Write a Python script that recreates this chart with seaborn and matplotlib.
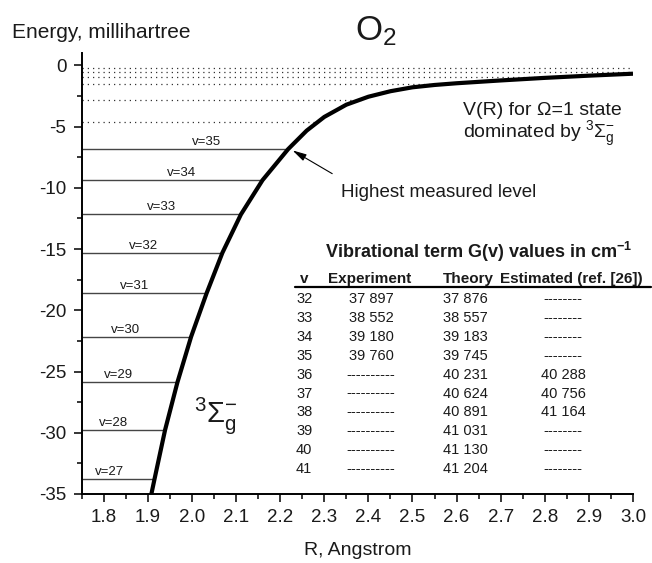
import numpy as np
import matplotlib
matplotlib.use("Agg")
import matplotlib.pyplot as plt
from matplotlib.ticker import MultipleLocator, FormatStrFormatter
from matplotlib.lines import Line2D
import seaborn as sns

# Potential energy curve V(R): R in Angstrom, energy in millihartree
curve_r = [1.908, 1.915, 1.939, 1.967, 1.998, 2.033, 2.069, 2.111, 2.160, 2.218,
           2.260, 2.300, 2.350, 2.400, 2.450, 2.500, 2.550, 2.600, 2.700, 2.800,
           2.900, 3.000]
curve_e = [-35.0, -33.80, -29.78, -25.89, -22.17, -18.63, -15.31, -12.18, -9.38, -6.85,
           -5.34, -4.22, -3.22, -2.57, -2.12, -1.80, -1.61, -1.47, -1.24, -1.03,
           -0.85, -0.69]

# Vibrational levels below the highest measured one (solid lines)
level_v = [27, 28, 29, 30, 31, 32, 33, 34, 35]
level_e = [-33.80, -29.78, -25.89, -22.17, -18.63, -15.31, -12.18, -9.38, -6.85]
level_label_r = [1.814, 1.823, 1.834, 1.850, 1.870, 1.891, 1.932, 1.977, 2.032]

# Calculated levels above the highest measured one (dotted lines)
upper_v = [36, 37, 38, 39, 40, 41]
upper_e = [-4.63, -2.80, -1.57, -0.95, -0.55, -0.22]

# Table of vibrational term values G(v), cm^-1
table_v = ["32", "33", "34", "35", "36", "37", "38", "39", "40", "41"]
table_exp = ["37 897", "38 552", "39 180", "39 760", "----------", "----------",
             "----------", "----------", "----------", "----------"]
table_theory = ["37 876", "38 557", "39 183", "39 745", "40 231", "40 624",
                "40 891", "41 031", "41 130", "41 204"]
table_est = ["--------", "--------", "--------", "--------", "40 288", "40 756",
             "41 164", "--------", "--------", "--------"]

sns.set_theme(style="ticks")
plt.rcParams["font.family"] = ["Liberation Sans", "DejaVu Sans"]
plt.rcParams["mathtext.fontset"] = "custom"
plt.rcParams["mathtext.rm"] = "Liberation Sans"
plt.rcParams["mathtext.it"] = "Liberation Sans"
plt.rcParams["mathtext.sf"] = "Liberation Sans"
plt.rcParams["mathtext.bf"] = "Liberation Sans:bold"
plt.rcParams["axes.unicode_minus"] = False

W, H = 652, 563
fig = plt.figure(figsize=(W / 100, H / 100), dpi=100)
fig.patch.set_facecolor("white")


def px(x, y):
    return x / W, 1 - y / H


ax = fig.add_axes([81.7 / W, 1 - 494 / H, (633 - 81.7) / W, (494 - 53) / H])
ax.set_facecolor("white")
ax.set_xlim(1.75, 3.0)
ax.set_ylim(-35, 1)

text_color = "#1a1a1a"

# solid measured levels, from the inner wall of the box to the curve
ends = np.interp(level_e, curve_e, curve_r)
ax.hlines(level_e, 1.75, ends, colors="#454545", lw=1.0, zorder=2)
for v, e, xr in zip(level_v, level_e, level_label_r):
    ax.annotate(f"v={v}", xy=(xr, e), xytext=(0, 3), textcoords="offset points",
                ha="center", va="baseline", fontsize=9.5, color=text_color)

# dotted calculated levels
up_ends = np.minimum(np.interp(upper_e, curve_e, curve_r), 3.0)
for e, xe in zip(upper_e, up_ends):
    ax.plot([1.75, xe], [e, e], color="#333333", lw=0.9,
            linestyle=(0, (1, 3.2)), zorder=2)

# potential curve
sns.lineplot(x=curve_r, y=curve_e, sort=False, color="black", lw=3.0,
             ax=ax, zorder=3, legend=False, solid_joinstyle="round",
             solid_capstyle="butt")

# arrow to the highest measured level
ax.annotate("", xy=(2.228, -6.95), xytext=(2.318, -8.85),
            arrowprops=dict(arrowstyle="-|>,head_length=0.7,head_width=0.18",
                            color="black", lw=0.8, shrinkA=0, shrinkB=0))

# axes styling
for side in ("top", "right"):
    ax.spines[side].set_visible(False)
for side in ("left", "bottom"):
    ax.spines[side].set_linewidth(1.4)
    ax.spines[side].set_color("black")

ax.xaxis.set_major_locator(MultipleLocator(0.1))
ax.xaxis.set_minor_locator(MultipleLocator(0.05))
ax.xaxis.set_major_formatter(FormatStrFormatter("%.1f"))
ax.yaxis.set_major_locator(MultipleLocator(5))
ax.yaxis.set_minor_locator(MultipleLocator(2.5))
ax.yaxis.set_major_formatter(FormatStrFormatter("%d"))
ax.tick_params(which="major", direction="out", length=6, width=1.1,
               labelsize=13.5, colors="black", labelcolor=text_color, pad=5)
ax.tick_params(which="minor", direction="out", length=3.5, width=1.1, colors="black")
ax.tick_params(axis="x", which="both", bottom=True, top=False)
ax.tick_params(axis="y", which="both", left=True, right=False)

ax.set_xlabel("R, Angstrom", fontsize=14, color=text_color, labelpad=11)
fig.text(*px(12, 33), "Energy, millihartree", fontsize=15, color=text_color,
         ha="left", va="center")

# molecule and state labels
fig.text(*px(355, 40), r"O$_2$", fontsize=25, color=text_color, va="baseline")
fig.text(*px(463, 115), "V(R) for Ω=1 state", fontsize=14, color=text_color,
         va="baseline")
fig.text(*px(463, 138), r"dominated by $^{3}\Sigma_{g}^{-}$", fontsize=14,
         color=text_color, va="baseline")
fig.text(*px(341, 197), "Highest measured level", fontsize=13.5, color=text_color,
         va="baseline")
fig.text(*px(194, 423), r"${}^{3}\Sigma_{g}^{-}$", fontsize=21, color=text_color,
         va="baseline")

# table of term values
fig.text(*px(325, 258), r"Vibrational term G(v) values in cm$^{\mathbf{-1}}$",
         fontsize=13, fontweight="bold", color=text_color, va="baseline")
header_y = 283
fig.text(*px(300, header_y), "v", fontsize=11, fontweight="bold", color=text_color,
         va="baseline")
fig.text(*px(328, header_y), "Experiment", fontsize=11, fontweight="bold",
         color=text_color, va="baseline")
fig.text(*px(443, header_y), "Theory", fontsize=11, fontweight="bold",
         color=text_color, va="baseline")
fig.text(*px(500, header_y), "Estimated (ref. [26])", fontsize=11, fontweight="bold",
         color=text_color, va="baseline")
x0, y0 = px(295, 287)
x1, _ = px(651, 287)
fig.add_artist(Line2D([x0, x1], [y0, y0], transform=fig.transFigure,
                      color="black", lw=1.6))

row_step = 18.9
for i, (v, ex, th, es) in enumerate(zip(table_v, table_exp, table_theory, table_est)):
    yb = 303 + row_step * i
    fig.text(*px(296, yb), v, fontsize=10.5, color=text_color, va="baseline")
    fig.text(*px(371, yb), ex, fontsize=10.5, color=text_color, va="baseline",
             ha="center")
    fig.text(*px(443, yb), th, fontsize=10.5, color=text_color, va="baseline")
    fig.text(*px(563, yb), es, fontsize=10.5, color=text_color, va="baseline",
             ha="center")

fig.savefig("out.png", dpi=100, facecolor="white")
